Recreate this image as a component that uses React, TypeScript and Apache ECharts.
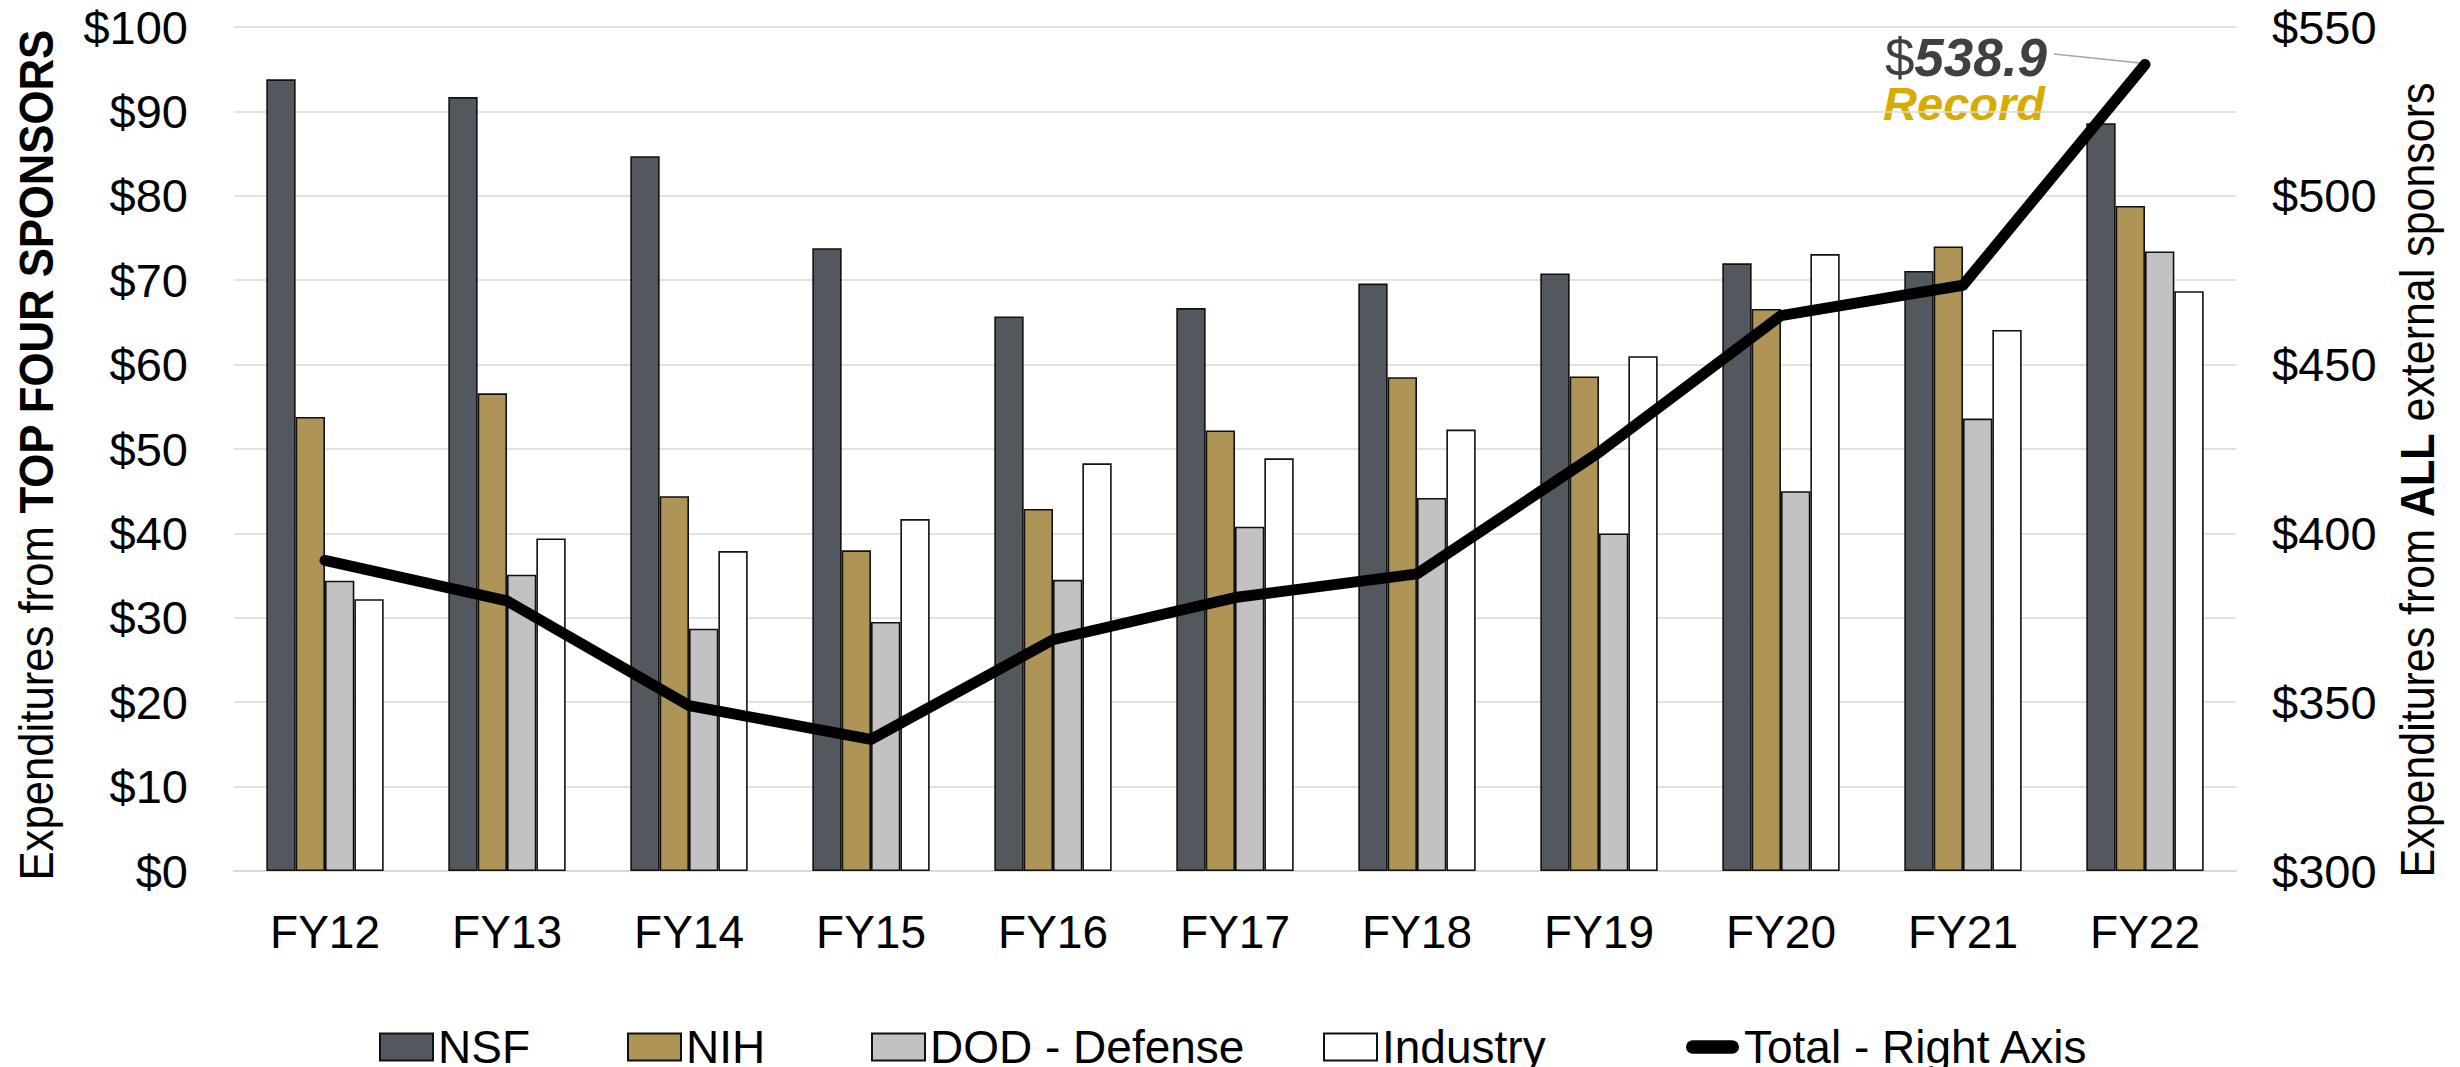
import React, { useEffect, useRef } from "react";
import * as echarts from "echarts";

const categories = ["FY12", "FY13", "FY14", "FY15", "FY16", "FY17", "FY18", "FY19", "FY20", "FY21", "FY22"];
const nsf = [93.8, 91.7, 84.7, 73.8, 65.7, 66.7, 69.6, 70.8, 72.0, 71.1, 88.6];
const nih = [53.8, 56.6, 44.4, 38.0, 42.9, 52.2, 58.5, 58.6, 66.6, 74.0, 78.8];
const dod = [34.4, 35.1, 28.7, 29.5, 34.5, 40.8, 44.2, 40.0, 45.0, 53.6, 73.4];
const industry = [32.2, 39.4, 37.9, 41.7, 48.3, 48.9, 52.3, 61.0, 73.1, 64.1, 68.7];
const total = [392.0, 380.0, 349.0, 339.0, 368.5, 381.0, 388.0, 424.0, 464.5, 473.5, 538.9];
const leftTicks = { min: 0, max: 100, interval: 10 };
const rightTicks = { min: 300, max: 550, interval: 50 };
const legendNames = ["NSF", "NIH", "DOD - Defense", "Industry", "Total - Right Axis"];

const FONT = "'Liberation Sans', Arial, Helvetica, sans-serif";
const LINE_ICON = "path://M7,0 L48,0 A7,7 0 0 1 48,14 L7,14 A7,7 0 0 1 7,0 Z";
const LEGEND_LEFT = [374, 622, 866, 1318, 1681];

export default function App() {
  const ref = useRef<HTMLDivElement>(null);
  useEffect(() => {
    if (!ref.current) return;
    const chart = echarts.init(ref.current, undefined, { renderer: "svg" });
    const border = { borderColor: "#111111", borderWidth: 1.6 };
    const barBase = {
      type: "bar",
      yAxisIndex: 0,
      barGap: "0%",
      barCategoryGap: "35.5%",
    };
    const legends = legendNames.map((name, i) => ({
      left: LEGEND_LEFT[i],
      top: 1019,
      itemWidth: 53,
      itemHeight: 27,
      textStyle: { fontSize: 46, color: "#000", fontFamily: FONT },
      data: [
        i === 4
          ? { name, icon: LINE_ICON, itemStyle: { color: "#000", borderWidth: 0 } }
          : { name, icon: "rect" },
      ],
    }));
    chart.setOption({
      animation: false,
      backgroundColor: "#ffffff",
      textStyle: { fontFamily: FONT },
      grid: { left: 234, right: 224, top: 27, bottom: 196, containLabel: false },
      legend: legends,
      xAxis: {
        type: "category",
        data: categories,
        axisLine: { show: true, lineStyle: { color: "#d9d9d9", width: 2 } },
        axisTick: { show: false },
        axisLabel: { fontSize: 46, color: "#000", margin: 38, fontFamily: FONT },
      },
      yAxis: [
        {
          type: "value",
          min: leftTicks.min,
          max: leftTicks.max,
          interval: leftTicks.interval,
          axisLine: { show: false },
          axisTick: { show: false },
          splitLine: { show: true, lineStyle: { color: "#d9d9d9", width: 1.5 } },
          axisLabel: { fontSize: 47, color: "#000", margin: 46, formatter: "${value}", fontFamily: FONT },
        },
        {
          type: "value",
          min: rightTicks.min,
          max: rightTicks.max,
          interval: rightTicks.interval,
          position: "right",
          axisLine: { show: false },
          axisTick: { show: false },
          splitLine: { show: false },
          axisLabel: { fontSize: 47, color: "#000", margin: 36, formatter: "${value}", fontFamily: FONT },
        },
      ],
      series: [
        { ...barBase, name: "NSF", data: nsf, itemStyle: { color: "#53575e", ...border } },
        { ...barBase, name: "NIH", data: nih, itemStyle: { color: "#ae9557", ...border } },
        { ...barBase, name: "DOD - Defense", data: dod, itemStyle: { color: "#c4c1c2", ...border } },
        { ...barBase, name: "Industry", data: industry, itemStyle: { color: "#ffffff", ...border } },
        {
          type: "line",
          name: "Total - Right Axis",
          yAxisIndex: 1,
          data: total,
          symbol: "none",
          showSymbol: false,
          z: 5,
          itemStyle: { color: "#000" },
          lineStyle: { color: "#000", width: 11, cap: "round", join: "round" },
        },
      ],
      graphic: [
        {
          type: "text",
          x: 36,
          y: 455,
          rotation: Math.PI / 2,
          scaleX: 0.91,
          style: {
            text: "{a|Expenditures from }{b|TOP FOUR SPONSORS}",
            rich: {
              a: { fontSize: 48, fontFamily: FONT, fill: "#000", color: "#000" },
              b: { fontSize: 48, fontFamily: FONT, fontWeight: "bold", fill: "#000", color: "#000" },
            },
            textAlign: "center",
            textVerticalAlign: "middle",
          },
        },
        {
          type: "text",
          x: 2418,
          y: 480,
          rotation: Math.PI / 2,
          scaleX: 0.895,
          style: {
            text: "{a|Expenditures from }{b|ALL}{a| external sponsors}",
            rich: {
              a: { fontSize: 48, fontFamily: FONT, fill: "#000", color: "#000" },
              b: { fontSize: 48, fontFamily: FONT, fontWeight: "bold", fill: "#000", color: "#000" },
            },
            textAlign: "center",
            textVerticalAlign: "middle",
          },
        },
        {
          type: "text",
          x: 2047,
          y: 57,
          style: {
            text: "{a|$}{b|538.9}",
            rich: {
              a: { fontSize: 53, fontFamily: FONT, fill: "#404040", color: "#404040" },
              b: { fontSize: 53, fontFamily: FONT, fontWeight: "bold", fontStyle: "italic", fill: "#404040", color: "#404040" },
            },
            textAlign: "right",
            textVerticalAlign: "middle",
          },
        },
        {
          type: "text",
          x: 2045,
          y: 103,
          style: {
            text: "Record",
            fontSize: 47,
            fontFamily: FONT,
            fontWeight: "bold",
            fontStyle: "italic",
            fill: "#d9ab00",
            textAlign: "right",
            textVerticalAlign: "middle",
          },
        },
        {
          type: "line",
          shape: { x1: 2054, y1: 54, x2: 2140, y2: 63 },
          style: { stroke: "#a6a6a6", lineWidth: 1.5 },
        },
      ],
    });
    return () => chart.dispose();
  }, []);
  return (
    <div
      ref={ref}
      style={{ position: "absolute", left: 0, top: 0, width: 2460, height: 1067 }}
    />
  );
}
